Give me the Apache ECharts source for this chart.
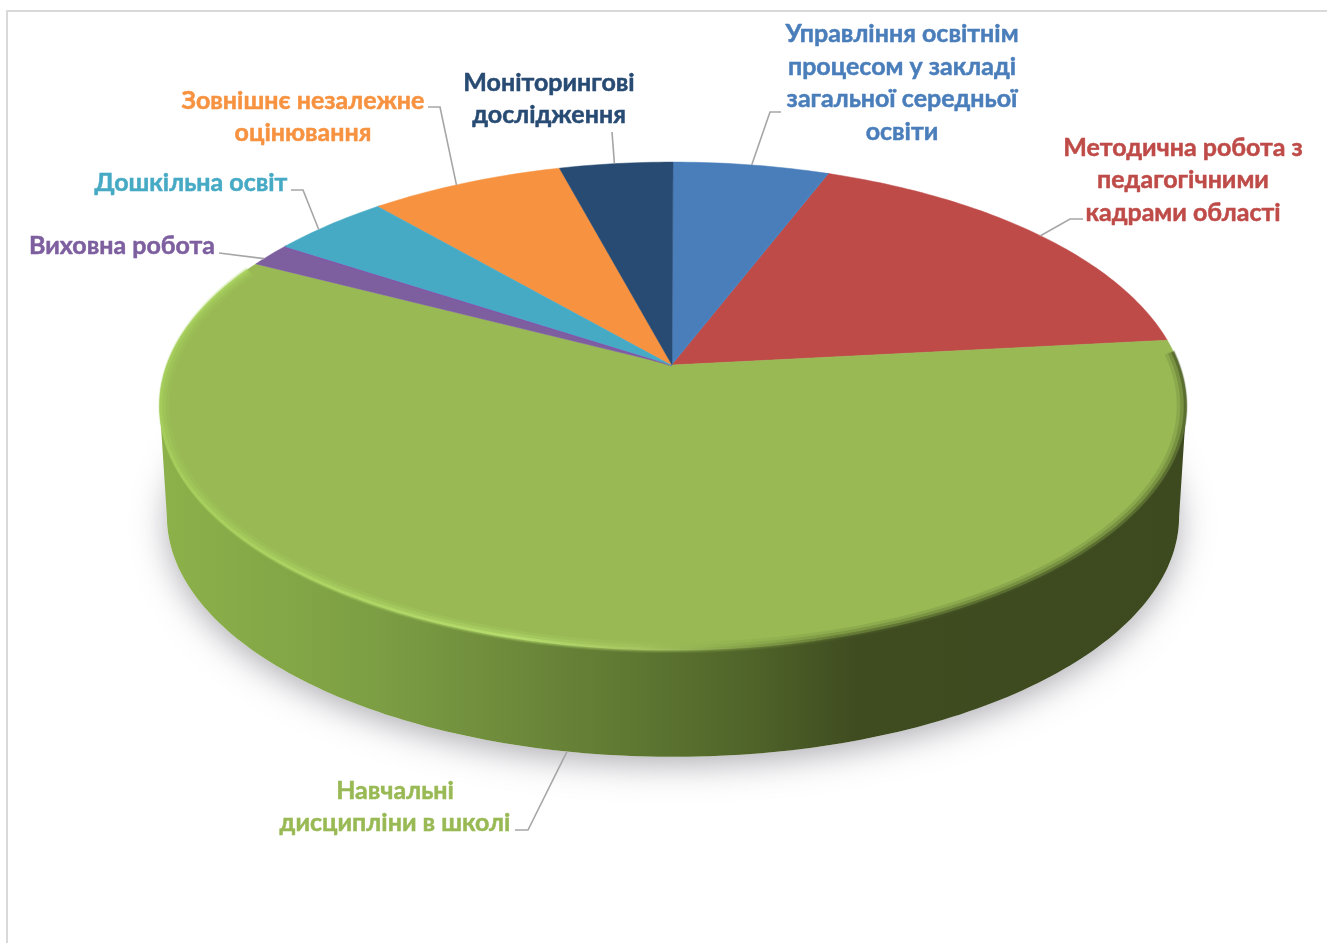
<!DOCTYPE html>
<html>
<head>
<meta charset="utf-8">
<title>pie</title>
<script src="https://cdn.jsdelivr.net/npm/echarts@6/dist/echarts.min.js"></script>
<style>
  body { margin: 0; background: #fff; }
  #main { width: 1327px; height: 943px; }
</style>
</head>
<body>
<div id="main"></div>
<script>
const categories = [
  "Управління освітнім\nпроцесом у закладі\nзагальної середньої\nосвіти",
  "Методична робота з\nпедагогічними\nкадрами області",
  "Навчальні\nдисципліни в школі",
  "Виховна робота",
  "Дошкільна освіт",
  "Зовнішнє незалежне\nоцінювання",
  "Моніторингові\nдослідження",
];
const shares = [5.8, 17.5, 59.3, 1.6, 4.4, 7.2, 4.2];
const sliceColors = ["#4a7ebb", "#be4b48", "#98b954", "#7d5fa0", "#46aac4", "#f69240", "#284b73"];
// brighter seam along the closing edge of some slices
const seamColors = ["#3c8ed2", null, null, "#8a4db4", "#3fb0da", null, null];

// label centre, leader elbows (px) and how far the leader sits off the slice middle (deg)
const labelCenters = [[902, 83], [1183, 180], [395, 807], [122, 246], [191, 183], [303, 117], [549, 99]];
const leaderElbows = [
  [[770, 112], [781, 112]],
  [[1070, 219], [1083, 219]],
  [[528, 830], [515, 830]],
  [[219, 253]],
  [[303, 190], [291, 190]],
  [[440, 107], [428, 107]],
  [[612, 132]],
];
const leaderNudge = [0, 0.7, -0.4, -1.2, -1.8, -1.3, -0.2];

// tilted disc: circle pushed through a perspective divide
const cx = 673, apexY = 365, A = 506, B = 237, k = 0.168;
const depth = 111, bottomScale = 0.986;
const total = shares.reduce((s, v) => s + v, 0);

function rim(deg, bottom, inset) {
  const t = deg * Math.PI / 180;
  const w = 1 + k * Math.cos(t);
  const s = (bottom ? bottomScale : 1) * (inset || 1);
  return [cx + s * A * Math.sin(t) / w, apexY + (bottom ? depth : 0) - s * B * Math.cos(t) / w];
}
function arc(from, to, bottom, inset) {
  const pts = [];
  const n = Math.max(2, Math.ceil(Math.abs(to - from)));
  for (let i = 0; i <= n; i++) pts.push(rim(from + (to - from) * i / n, bottom, inset));
  return pts;
}

const leftTan = 360 - Math.acos(-k) * 180 / Math.PI;
const rightTan = Math.acos(-k) * 180 / Math.PI;

const sideGrad = new echarts.graphic.LinearGradient(165, 0, 1181, 0, [
  { offset: 0, color: "#8cb14a" },
  { offset: 0.2, color: "#7d9f44" },
  { offset: 0.33, color: "#6f8c3c" },
  { offset: 0.47, color: "#5d7631" },
  { offset: 0.58, color: "#4f6329" },
  { offset: 0.68, color: "#3f4c20" },
  { offset: 1, color: "#3d4a1f" },
], true);
const rimGrad = new echarts.graphic.LinearGradient(158, 0, 1188, 0, [
  { offset: 0, color: "#a8d25c" },
  { offset: 0.15, color: "#b2dc66" },
  { offset: 0.35, color: "#bde572" },
  { offset: 0.47, color: "#a9c862" },
  { offset: 0.54, color: "#8aa84c" },
  { offset: 0.66, color: "#56692c" },
  { offset: 0.8, color: "#465624" },
  { offset: 1, color: "#465624" },
], true);

function renderSlice(params, api) {
  const i = params.dataIndex;
  let before = 0;
  for (let j = 0; j < i; j++) before += shares[j];
  const start = before / total * 360;
  const end = start + api.value(0) / total * 360;
  const mid = (start + end) / 2 + leaderNudge[i];
  const children = [];

  // wall of the disc, only the part facing the viewer
  const from = Math.max(start, rightTan), to = Math.min(end, leftTan);
  if (to > from) {
    children.push({
      type: "polygon",
      shape: { points: arc(from, to, false).concat(arc(to, from, true)) },
      style: { fill: sideGrad },
    });
  }
  children.push({
    type: "polygon",
    shape: { points: [[cx - 1, apexY]].concat(arc(start, end, false)) },
    style: { fill: sliceColors[i], stroke: sliceColors[i], lineWidth: 0.5 },
  });
  if (seamColors[i]) {
    children.push({
      type: "line",
      shape: { x1: cx - 1, y1: apexY, x2: rim(end)[0], y2: rim(end)[1] },
      style: { stroke: seamColors[i], lineWidth: 3, opacity: 0.55 },
    });
  }
  if (to > from) {
    // soft bevel where the top meets the wall, stacked strokes fake the blur
    [[11, 0.16, 0.992], [7, 0.28, 0.995], [3, 0.6, 0.998]].forEach((b) => {
      children.push({
        type: "polyline",
        shape: { points: arc(start + 3, end - 2, false, b[2]) },
        style: { fill: null, stroke: rimGrad, lineWidth: b[0], opacity: b[1] },
      });
    });
  }

  // leader from the slice edge to the label
  const facing = mid > rightTan && mid < leftTan;
  children.push({
    type: "polyline",
    shape: { points: [rim(mid, facing)].concat(leaderElbows[i]) },
    style: { fill: null, stroke: "#a6a6a6", lineWidth: 1.6 },
  });
  children.push({
    type: "text",
    style: {
      text: categories[i],
      x: labelCenters[i][0],
      y: labelCenters[i][1],
      align: "center",
      verticalAlign: "middle",
      fill: sliceColors[i],
      stroke: sliceColors[i],
      lineWidth: 0.5,
      font: "bold 25px Lato, 'Open Sans', sans-serif",
      lineHeight: 32.5,
    },
  });
  return { type: "group", children: children };
}

const chart = echarts.init(document.getElementById("main"), null, { renderer: "canvas" });
chart.setOption({
  animation: false,
  backgroundColor: "#fff",
  graphic: [
    {
      type: "rect",
      z: 0,
      shape: { x: 7, y: 11, width: 1400, height: 1000 },
      style: { fill: "#fff", stroke: "#d9d9d9", lineWidth: 2 },
    },
    {
      // soft shadow under the disc
      type: "polygon",
      z: 1,
      shape: { points: arc(0, 360, true) },
      style: { fill: "#fff", shadowBlur: 32, shadowOffsetY: 8, shadowColor: "rgba(100,100,112,0.5)" },
    },
  ],
  series: [
    {
      type: "custom",
      coordinateSystem: "none",
      z: 5,
      silent: true,
      data: shares.map((v) => [v]),
      renderItem: renderSlice,
    },
  ],
});
</script>
</body>
</html>
